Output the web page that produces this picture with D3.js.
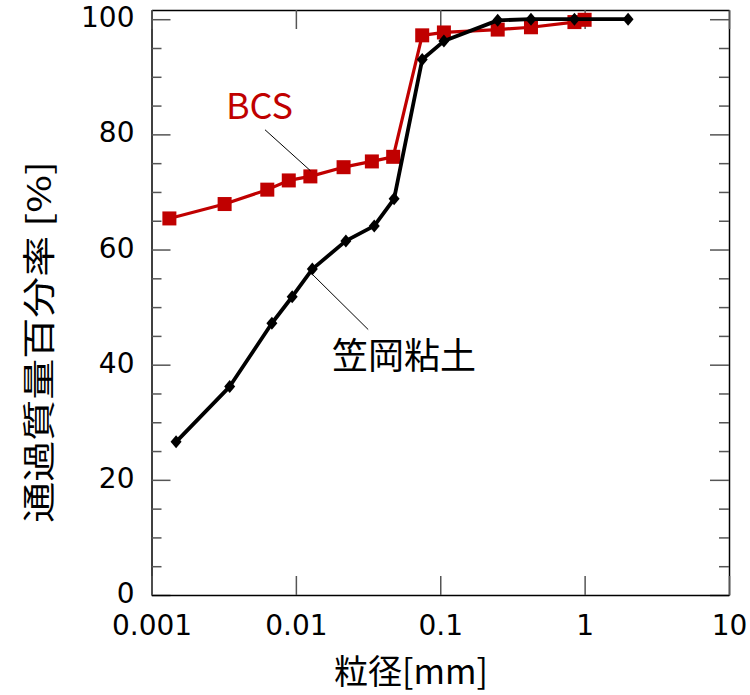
<!DOCTYPE html>
<html>
<head>
<meta charset="utf-8">
<script src="https://cdn.jsdelivr.net/npm/d3@7"></script>
<style>
  html, body { margin: 0; padding: 0; background: #fff; }
  svg { display: block; }
</style>
</head>
<body>
<svg id="chart" width="750" height="695"></svg>
<script>
// ---- data ----
const xTickValues = [0.001, 0.01, 0.1, 1, 10];
const xTickLabels = ["0.001", "0.01", "0.1", "1", "10"];
const yTickValues = [0, 20, 40, 60, 80, 100];
const yMinorTicks = [5, 10, 15, 25, 30, 35, 45, 50, 55, 65, 70, 75, 85, 90, 95];

const bcsSize = [0.00133, 0.00321, 0.00634, 0.00893, 0.0126, 0.0214, 0.0336, 0.0472, 0.075, 0.106, 0.25, 0.425, 0.85, 1.0];
const bcsPass = [65.4, 67.9, 70.4, 72.0, 72.7, 74.3, 75.3, 76.1, 97.2, 97.7, 98.2, 98.6, 99.5, 99.9];

const kasaokaSize = [0.00148, 0.00348, 0.00682, 0.00943, 0.0130, 0.0222, 0.0349, 0.0479, 0.075, 0.106, 0.25, 0.425, 0.85, 2.0];
const kasaokaPass = [26.6, 36.2, 47.2, 51.8, 56.6, 61.5, 64.1, 68.8, 93.0, 96.2, 99.8, 100, 100, 100];

const seriesNames = ["BCS", "笠岡粘土"];
const xTitle = "粒径[mm]";
const yTitle = "通過質量百分率 [%]";

// ---- layout ----
const L = 151.5, R = 729, T = 10, B = 595;
const svg = d3.select("#chart");
const x = d3.scaleLog().domain([0.001, 10]).range([L, R]);
const y = d3.scaleLinear().domain([0, 101.6]).range([B, T]);

const numFont = "'DejaVu Sans', Verdana, sans-serif";
const cjkFont = "'Noto Sans CJK JP', 'Noto Sans', sans-serif";

function styleAxis(g) {
  g.select(".domain").attr("stroke", "#000").attr("stroke-width", 1.5);
  g.selectAll(".tick line").attr("stroke", "#555").attr("stroke-width", 1.5);
}

// left axis: majors with labels
const gLeft = svg.append("g").attr("transform", `translate(${L},0)`)
  .call(d3.axisLeft(y).tickValues(yTickValues).tickSize(-19).tickSizeOuter(0).tickPadding(17).tickFormat(d3.format("d")));
gLeft.call(styleAxis);
gLeft.selectAll("text").attr("font-family", numFont).attr("font-size", 28).attr("fill", "#000").attr("dy", "0.27em");
// left minors
svg.append("g").attr("transform", `translate(${L},0)`)
  .call(d3.axisLeft(y).tickValues(yMinorTicks).tickSize(-10).tickSizeOuter(0).tickFormat(""))
  .call(g => g.select(".domain").remove())
  .selectAll(".tick line").attr("stroke", "#555").attr("stroke-width", 1.5);

// right axis
const gRight = svg.append("g").attr("transform", `translate(${R},0)`)
  .call(d3.axisRight(y).tickValues(yTickValues).tickSize(-19).tickSizeOuter(0).tickFormat(""));
gRight.call(styleAxis);
svg.append("g").attr("transform", `translate(${R},0)`)
  .call(d3.axisRight(y).tickValues(yMinorTicks).tickSize(-10).tickSizeOuter(0).tickFormat(""))
  .call(g => g.select(".domain").remove())
  .selectAll(".tick line").attr("stroke", "#555").attr("stroke-width", 1.5);

// bottom axis
const gBottom = svg.append("g").attr("transform", `translate(0,${B})`)
  .call(d3.axisBottom(x).tickValues(xTickValues).tickSize(-19).tickSizeOuter(0).tickPadding(20)
    .tickFormat((d, i) => xTickLabels[i]));
gBottom.call(styleAxis);
gBottom.selectAll("text").attr("font-family", numFont).attr("font-size", 28).attr("fill", "#000");

// top axis
const gTop = svg.append("g").attr("transform", `translate(0,${T})`)
  .call(d3.axisTop(x).tickValues(xTickValues).tickSize(-19).tickSizeOuter(0).tickFormat(""));
gTop.call(styleAxis);

// ---- series ----
const line = d3.line().x(d => x(d[0])).y(d => y(d[1]));
const bcs = bcsSize.map((s, i) => [s, bcsPass[i]]);
const kas = kasaokaSize.map((s, i) => [s, kasaokaPass[i]]);

const red = "#C00000";
svg.append("path").datum(bcs).attr("d", line)
  .attr("fill", "none").attr("stroke", red).attr("stroke-width", 3.2).attr("stroke-linejoin", "round");
svg.append("g").selectAll("rect").data(bcs).join("rect")
  .attr("x", d => x(d[0]) - 7).attr("y", d => y(d[1]) - 7)
  .attr("width", 14).attr("height", 14).attr("fill", red);

svg.append("path").datum(kas).attr("d", line)
  .attr("fill", "none").attr("stroke", "#000").attr("stroke-width", 3.8).attr("stroke-linejoin", "round");
svg.append("g").selectAll("path").data(kas).join("path")
  .attr("d", d => {
    const cx = x(d[0]), cy = y(d[1]);
    return `M${cx},${cy - 6.5}L${cx + 5.5},${cy}L${cx},${cy + 6.5}L${cx - 5.5},${cy}Z`;
  })
  .attr("fill", "#000");

// ---- annotations (data coordinates) ----
const annBCS = { label: [0.00328, 82.7], from: [0.00611, 80.8], to: [bcsSize[4], bcsPass[4] + 1] };
const annKas = { label: [0.0178, 39.25], from: [kasaokaSize[4], kasaokaPass[4] - 0.9], to: [0.0317, 46.1] };

svg.append("line")
  .attr("x1", x(annBCS.from[0])).attr("y1", y(annBCS.from[1]))
  .attr("x2", x(annBCS.to[0])).attr("y2", y(annBCS.to[1]))
  .attr("stroke", "#000").attr("stroke-width", 1);
svg.append("line")
  .attr("x1", x(annKas.from[0])).attr("y1", y(annKas.from[1]))
  .attr("x2", x(annKas.to[0])).attr("y2", y(annKas.to[1]))
  .attr("stroke", "#000").attr("stroke-width", 1);

svg.append("text").attr("x", x(annBCS.label[0])).attr("y", y(annBCS.label[1]))
  .attr("font-family", cjkFont).attr("font-size", 36).attr("fill", red).text(seriesNames[0]);
svg.append("text").attr("x", x(annKas.label[0])).attr("y", y(annKas.label[1]))
  .attr("font-family", cjkFont).attr("font-size", 36).attr("fill", "#000").text(seriesNames[1]);

// ---- axis titles ----
svg.append("text").attr("x", 411).attr("y", 684).attr("text-anchor", "middle")
  .attr("font-family", cjkFont).attr("font-size", 34).attr("fill", "#000").text(xTitle);
svg.append("text").attr("transform", "translate(51,342) rotate(-90) scale(1,0.8)").attr("text-anchor", "middle")
  .attr("font-family", cjkFont).attr("font-size", 41).attr("fill", "#000").text(yTitle);
</script>
</body>
</html>
